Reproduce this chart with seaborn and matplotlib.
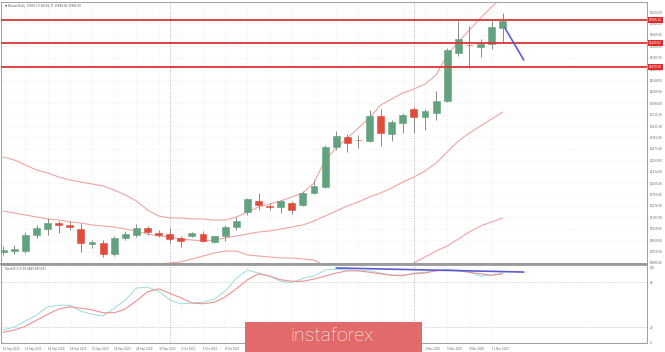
import numpy as np
import pandas as pd
import matplotlib.pyplot as plt
import matplotlib.patches as mpatches
import seaborn as sns

# ---- data (Bitcoin, daily, weekdays only) ----
dates = ['10 Sep', '11 Sep', '14 Sep', '15 Sep', '16 Sep', '17 Sep', '18 Sep', '21 Sep', '22 Sep', '23 Sep',
         '24 Sep', '25 Sep', '28 Sep', '29 Sep', '30 Sep', '1 Oct', '2 Oct', '5 Oct', '6 Oct', '7 Oct',
         '8 Oct', '9 Oct', '12 Oct', '13 Oct', '14 Oct', '15 Oct', '16 Oct', '19 Oct', '20 Oct', '21 Oct',
         '22 Oct', '23 Oct', '26 Oct', '27 Oct', '28 Oct', '29 Oct', '30 Oct', '2 Nov', '3 Nov', '4 Nov',
         '5 Nov', '6 Nov', '9 Nov', '10 Nov', '11 Nov', '12 Nov']
opens = [10349, 10373, 10373, 10765, 10912, 11059, 11010, 10912, 10545, 10569,
         10300, 10692, 10765, 10936, 10814, 10790, 10692, 10741, 10790, 10594,
         10741, 10961, 11328, 11597, 11475, 11450, 11548, 11499, 11793, 11940,
         12919, 13164, 13091, 13066, 13678, 13238, 13507, 13850, 13654, 13752,
         14045, 15220, 15428, 15367, 15441, 15832]
highs = [10496, 10520, 10838, 11010, 11181, 11108, 11108, 11059, 10643, 10643,
         10741, 10863, 11034, 10985, 10887, 10936, 10741, 10838, 10863, 10741,
         11010, 11206, 11671, 11793, 11548, 11622, 11597, 11842, 12111, 12968,
         13311, 13238, 13213, 13825, 13850, 13580, 13752, 13899, 13850, 14290,
         15343, 16004, 15881, 15563, 16004, 16200]
lows = [10275, 10300, 10324, 10692, 10765, 10814, 10887, 10349, 10447, 10226,
        10251, 10643, 10716, 10765, 10716, 10569, 10471, 10716, 10594, 10569,
        10618, 10887, 11255, 11377, 11377, 11304, 11279, 11475, 11769, 11916,
        12846, 12797, 12895, 13042, 12944, 13066, 13262, 13262, 13335, 13580,
        14021, 15147, 14853, 15122, 15318, 15465]
closes = [10398, 10422, 10765, 10936, 11059, 11010, 10961, 10569, 10594, 10300,
          10692, 10789, 10936, 10838, 10777, 10667, 10618, 10814, 10618, 10741,
          10961, 11108, 11646, 11499, 11450, 11597, 11377, 11793, 11965, 12919,
          13189, 13017, 13081, 13678, 13262, 13531, 13703, 13654, 13801, 14045,
          15294, 15563, 15416, 15441, 15857, 16004]

bb_upper = [12674, 12601, 12479, 12356, 12283, 12185, 12111, 12062, 12013, 11965,
            11867, 11744, 11597, 11377, 11230, 11181, 11181, 11157, 11157, 11132,
            11132, 11206, 11328, 11450, 11524, 11597, 11695, 11793, 12038, 12601,
            12895, 13140, 13384, 13629, 13947, 14094, 14241, 14339, 14461, 14682,
            15171, 15490, 15783, 16077, 16346, 16591]
bb_mid = [11352, 11304, 11255, 11206, 11157, 11132, 11083, 11059, 11010, 10985,
          10961, 10912, 10863, 10789, 10741, 10716, 10667, 10643, 10618, 10643,
          10692, 10741, 10789, 10838, 10863, 10912, 10961, 11010, 11108, 11230,
          11352, 11475, 11573, 11695, 11793, 11916, 12062, 12185, 12332, 12528,
          12797, 13066, 13262, 13433, 13605, 13776]
bb_lower = [9786, 9737, 9663, 9614, 9541, 9492, 9541, 9590, 9663, 9737,
            9835, 9908, 9982, 10055, 10055, 10080, 10104, 10177, 10251, 10324,
            10373, 10373, 10275, 10251, 10226, 10202, 10202, 10177, 10153, 10006,
            9859, 9786, 9737, 9737, 9761, 9810, 9957, 10080, 10226, 10373,
            10496, 10667, 10838, 10985, 11083, 11181]

stoch_k = [16, 20, 28, 36, 47, 49, 49, 41, 37, 35, 45, 56, 72, 73, 68, 56, 51, 52, 53, 57,
           68, 85, 96, 92, 88, 81, 79, 85, 88, 96, 97, 96, 95, 95, 92, 89, 88, 92, 93, 95,
           97, 96, 93, 88, 89, 92]
stoch_d = [13, 16, 21, 29, 37, 44, 47, 45, 43, 39, 39, 44, 55, 67, 71, 65, 59, 52, 51, 53,
           60, 71, 83, 91, 88, 83, 81, 81, 84, 88, 92, 95, 95, 93, 91, 89, 89, 91, 92, 95,
           96, 95, 93, 91, 89, 91]

level_prices = [16028, 15465, 14878]
level_labels = ['15986.20', '15449.00', '14878.00']

price_ticks = [16224, 15945, 15665, 15386, 15107, 14828, 14548, 14269, 13990, 13711, 13431, 13152,
               12873, 12593, 12314, 12035, 11756, 11476, 11197, 10918, 10639, 10359, 10080]
stoch_ticks = [100, 80, 20, 0]

date_idx = [0, 2, 4, 6, 8, 10, 12, 14, 16, 18, 20, 22, 24, 26, 28, 30, 32, 34, 36, 38, 40, 42, 44]
date_labels = ['10 Sep 2020', '14 Sep 2020', '16 Sep 2020', '18 Sep 2020', '22 Sep 2020', '24 Sep 2020',
               '28 Sep 2020', '30 Sep 2020', '2 Oct 2020', '6 Oct 2020', '8 Oct 2020', '12 Oct 2020',
               '14 Oct 2020', '16 Oct 2020', '20 Oct 2020', '22 Oct 2020', '26 Oct 2020', '28 Oct 2020',
               '30 Oct 2020', '3 Nov 2020', '5 Nov 2020', '9 Nov 2020', '11 Nov 2020']
month_breaks = [15, 37]

# hand-drawn projection lines (start/end in bar index & value)
proj_x = [45.2, 46.9]
proj_price = [15832, 15049]
stoch_line_x = [30.0, 46.9]
stoch_line_y = [98.7, 93.3]

sns.set_theme(style="white")
plt.rcParams['font.family'] = ['DejaVu Sans']

df = pd.DataFrame({'i': np.arange(len(dates)), 'open': opens, 'high': highs, 'low': lows,
                   'close': closes, 'up': bb_upper, 'mid': bb_mid, 'lo': bb_lower,
                   'k': stoch_k, 'd': stoch_d})

GREEN = '#62a27f'
RED = '#e04b3b'
PINK = '#f2a3a3'
FS = 2.0

fig = plt.figure(figsize=(6.65, 3.52), dpi=100)
fig.patch.set_facecolor('white')
ax = fig.add_axes([1 / 665, 1 - 264 / 352, 646 / 665, 262 / 352])
ax2 = fig.add_axes([1 / 665, 1 - 343 / 352, 646 / 665, 78 / 352])

xmin, xmax = -0.2, 58.0
for a in (ax, ax2):
    a.set_xlim(xmin, xmax)
    a.set_facecolor('white')
    for s in a.spines.values():
        s.set_color('#a0a0a0')
        s.set_linewidth(0.7)
    a.set_xticks(date_idx)
    a.grid(True, color='#efefef', linewidth=0.5, linestyle=(0, (2, 2)))
    for m in month_breaks:
        a.axvline(m, color='#b5b5b5', linewidth=0.6, linestyle=(0, (1.5, 1.5)), zorder=1)

ax.spines['bottom'].set_linewidth(1.4)
ax.spines['bottom'].set_color('#999999')

# Bollinger bands
for col in ['up', 'mid', 'lo']:
    sns.lineplot(data=df, x='i', y=col, ax=ax, color=PINK, linewidth=0.8, zorder=2)

# candles
colors = [GREEN if c >= o else RED for o, c in zip(df['open'], df['close'])]
ax.vlines(df['i'], df['low'], df['high'], color='#8a8a8a', linewidth=0.7, zorder=3)
body_h = (df['close'] - df['open']).abs().clip(lower=8)
ax.bar(df['i'], body_h, bottom=df[['open', 'close']].min(axis=1), width=0.62,
       color=colors, edgecolor=colors, linewidth=0.4, zorder=4)

# support / resistance lines with price tags
for p, lab in zip(level_prices, level_labels):
    ax.axhline(p, color='#dd3333', linewidth=1.3, zorder=5)
    ax.text(1.003, p, lab, transform=ax.get_yaxis_transform(), fontsize=FS, color='white',
            va='center', ha='left', zorder=6,
            bbox=dict(boxstyle='square,pad=0.3', facecolor='#e02a2a', edgecolor='none'),
            clip_on=False)

ax.plot(proj_x, proj_price, color='#5b5bd6', linewidth=1.2, zorder=6)

ax.set_ylim(10055, 16469)
ax.yaxis.tick_right()
ax.set_yticks(price_ticks)
ax.set_yticklabels([f'{v:.2f}' for v in price_ticks], fontsize=FS, color='#666666')
ax.tick_params(axis='y', length=0, pad=2)
ax.tick_params(axis='x', length=0, labelbottom=False)
ax.set_xlabel('')
ax.set_ylabel('')
ax.text(0.006, 0.993, '\u25bc Bitcoin,Daily  15852.13 16166.75 15698.62 15986.50',
        transform=ax.transAxes, fontsize=FS, color='#555555', va='top', ha='left')

# stochastic panel
sns.lineplot(data=df, x='i', y='k', ax=ax2, color='#a7dede', linewidth=0.8, zorder=3)
sns.lineplot(data=df, x='i', y='d', ax=ax2, color='#f09090', linewidth=0.8, zorder=3)
ax2.plot(stoch_line_x, stoch_line_y, color='#5b5bd6', linewidth=1.2, zorder=4)
for lvl in (80, 20):
    ax2.axhline(lvl, color='#c8c8c8', linewidth=0.5, linestyle=(0, (2, 2)), zorder=1)
ax2.set_ylim(-1.3, 102.7)
ax2.yaxis.tick_right()
ax2.set_yticks(stoch_ticks)
ax2.set_yticklabels([str(v) for v in stoch_ticks], fontsize=FS, color='#666666')
ax2.tick_params(axis='y', length=0, pad=2)
ax2.set_xticklabels(date_labels, fontsize=1.9, color='#666666', ha='left')
ax2.tick_params(axis='x', length=1.5, width=0.4, color='#999999', pad=1.5)
ax2.set_xlabel('')
ax2.set_ylabel('')
ax2.text(0.006, 0.97, 'Stoch(5,3,3) 95.4483 88.5311', transform=ax2.transAxes,
         fontsize=FS, color='#555555', va='top', ha='left')

# watermark
fig.patches.append(mpatches.Rectangle((245 / 665, 0), 177 / 665, 30 / 352, transform=fig.transFigure,
                                      facecolor='#e36a6a', edgecolor='none', zorder=10))
fig.text(290 / 665, 16 / 352, 'instaforex', color='white', fontsize=14, family='Roboto',
         fontweight='light', va='center', ha='left', zorder=11)

fig.savefig('out.png', dpi=100, facecolor=fig.get_facecolor())
